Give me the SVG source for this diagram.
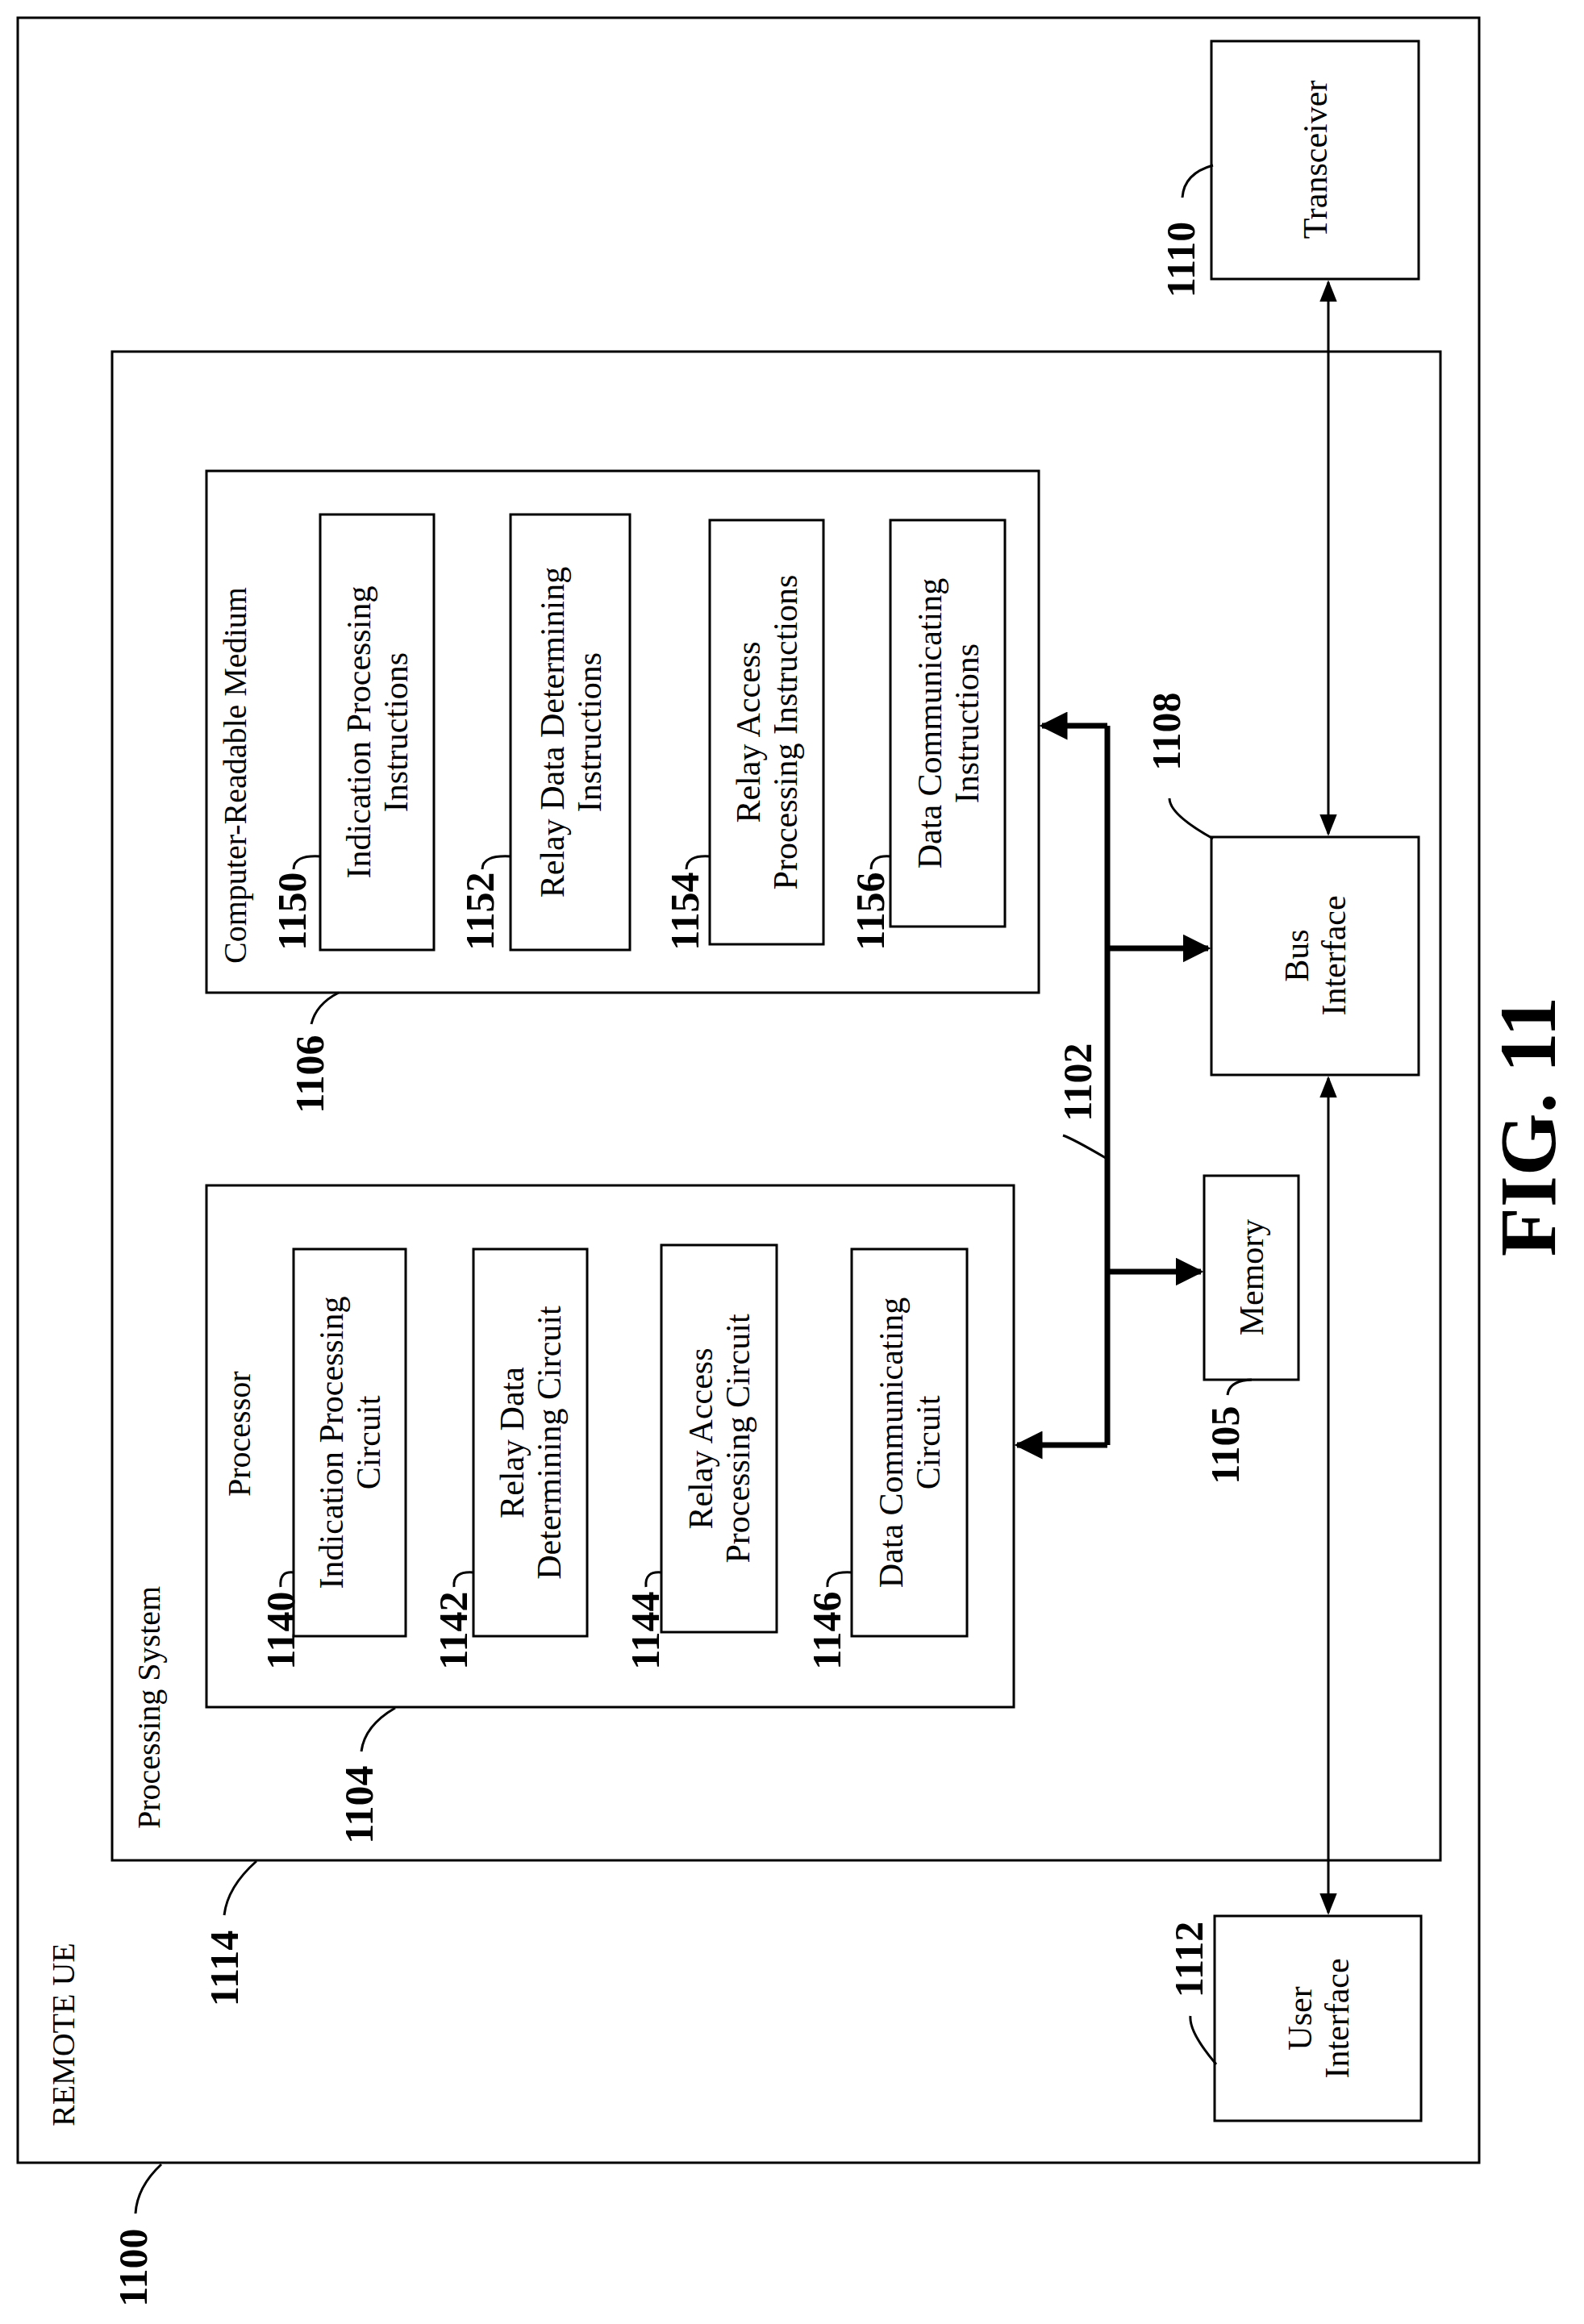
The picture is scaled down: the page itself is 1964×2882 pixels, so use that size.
<svg xmlns="http://www.w3.org/2000/svg" width="1964" height="2882" viewBox="0 0 1964 2882">
<style>
.b{fill:none;stroke:#000;stroke-width:3}
.t{font-family:"Liberation Serif",serif;font-size:42px;text-anchor:middle;fill:#000}
.l{font-family:"Liberation Serif",serif;font-size:40px;fill:#000}
.n{font-family:"Liberation Serif",serif;font-size:50px;font-weight:bold;text-anchor:middle;fill:#000}
.ld{fill:none;stroke:#000;stroke-width:3}
.bus{fill:none;stroke:#000;stroke-width:7}
.thin{fill:none;stroke:#000;stroke-width:3}
</style>
<defs>
<marker id="ab" viewBox="0 0 10 10" refX="9" refY="5" markerWidth="5" markerHeight="5" orient="auto-start-reverse" markerUnits="strokeWidth"><path d="M0,0L10,5L0,10z"/></marker>
<marker id="at" viewBox="0 0 10 10" refX="9" refY="5" markerWidth="9" markerHeight="9" orient="auto-start-reverse" markerUnits="strokeWidth"><path d="M0,1L10,5L0,9z"/></marker>
</defs>
<g id="n1100"><rect class="b" x="22" y="22" width="1812" height="2660"/>
<text class="l" transform="translate(92,2637) rotate(-90)">REMOTE UE</text>
<text class="n" transform="translate(182,2812) rotate(-90)">1100</text><path class="ld" d="M168,2745 Q170,2712 200,2684"/></g>
<g id="n1114"><rect class="b" x="139" y="436" width="1647" height="1871"/>
<text class="l" transform="translate(198,2268) rotate(-90)">Processing System</text>
<text class="n" transform="translate(295,2441) rotate(-90)">1114</text><path class="ld" d="M278,2375 Q282,2340 318,2308"/></g>
<g id="n1106"><rect class="b" x="256" y="584" width="1032" height="647"/>
<text class="l" transform="translate(305,1195) rotate(-90)">Computer-Readable Medium</text>
<text class="n" transform="translate(401,1332) rotate(-90)">1106</text><path class="ld" d="M386,1270 Q392,1245 420,1231"/></g>
<g id="n1150"><rect class="b" x="397" y="638" width="141" height="540"/>
<text class="t" transform="translate(467,908) rotate(-90)"><tspan x="0" y="-8">Indication Processing</tspan><tspan x="0" y="38">Instructions</tspan></text>
<text class="n" transform="translate(379,1130) rotate(-90)">1150</text><path class="ld" d="M364,1078 Q364,1060 397,1062"/></g>
<g id="n1152"><rect class="b" x="633" y="638" width="148" height="540"/>
<text class="t" transform="translate(707,908) rotate(-90)"><tspan x="0" y="-8">Relay Data Determining</tspan><tspan x="0" y="38">Instructions</tspan></text>
<text class="n" transform="translate(612,1130) rotate(-90)">1152</text><path class="ld" d="M598,1078 Q598,1060 633,1062"/></g>
<g id="n1154"><rect class="b" x="880" y="645" width="141" height="526"/>
<text class="t" transform="translate(950,908) rotate(-90)"><tspan x="0" y="-8">Relay Access</tspan><tspan x="0" y="38">Processing Instructions</tspan></text>
<text class="n" transform="translate(866,1130) rotate(-90)">1154</text><path class="ld" d="M851,1078 Q851,1060 880,1062"/></g>
<g id="n1156"><rect class="b" x="1104" y="645" width="142" height="504"/>
<text class="t" transform="translate(1175,897) rotate(-90)"><tspan x="0" y="-8">Data Communicating</tspan><tspan x="0" y="38">Instructions</tspan></text>
<text class="n" transform="translate(1096,1130) rotate(-90)">1156</text><path class="ld" d="M1080,1078 Q1080,1060 1104,1062"/></g>
<g id="n1104"><rect class="b" x="256" y="1470" width="1001" height="647"/>
<text class="l" transform="translate(310,1856) rotate(-90)">Processor</text>
<text class="n" transform="translate(462,2238) rotate(-90)">1104</text><path class="ld" d="M448,2172 Q452,2140 490,2118"/></g>
<g id="n1140"><rect class="b" x="364" y="1549" width="139" height="480"/>
<text class="t" transform="translate(433,1789) rotate(-90)"><tspan x="0" y="-8">Indication Processing</tspan><tspan x="0" y="38">Circuit</tspan></text>
<text class="n" transform="translate(365,2022) rotate(-90)">1140</text><path class="ld" d="M348,1968 Q346,1948 364,1950"/></g>
<g id="n1142"><rect class="b" x="587" y="1549" width="141" height="480"/>
<text class="t" transform="translate(657,1789) rotate(-90)"><tspan x="0" y="-8">Relay Data</tspan><tspan x="0" y="38">Determining Circuit</tspan></text>
<text class="n" transform="translate(579,2022) rotate(-90)">1142</text><path class="ld" d="M563,1968 Q561,1948 587,1950"/></g>
<g id="n1144"><rect class="b" x="820" y="1544" width="143" height="480"/>
<text class="t" transform="translate(891,1784) rotate(-90)"><tspan x="0" y="-8">Relay Access</tspan><tspan x="0" y="38">Processing Circuit</tspan></text>
<text class="n" transform="translate(817,2022) rotate(-90)">1144</text><path class="ld" d="M801,1968 Q799,1948 820,1950"/></g>
<g id="n1146"><rect class="b" x="1056" y="1549" width="143" height="480"/>
<text class="t" transform="translate(1127,1789) rotate(-90)"><tspan x="0" y="-8">Data Communicating</tspan><tspan x="0" y="38">Circuit</tspan></text>
<text class="n" transform="translate(1042,2022) rotate(-90)">1146</text><path class="ld" d="M1026,1968 Q1024,1948 1056,1950"/></g>
<g id="n1105"><rect class="b" x="1493" y="1458" width="117" height="253"/>
<text class="t" transform="translate(1566,1584) rotate(-90)">Memory</text>
<text class="n" transform="translate(1536,1792) rotate(-90)">1105</text><path class="ld" d="M1522,1730 Q1524,1712 1552,1711"/></g>
<g id="n1108"><rect class="b" x="1502" y="1038" width="257" height="295"/>
<text class="t" transform="translate(1630,1185) rotate(-90)"><tspan x="0" y="-8">Bus</tspan><tspan x="0" y="38">Interface</tspan></text>
<text class="n" transform="translate(1463,907) rotate(-90)">1108</text><path class="ld" d="M1450,990 Q1450,1010 1504,1040"/></g>
<g id="n1110"><rect class="b" x="1502" y="51" width="257" height="295"/>
<text class="t" transform="translate(1645,198) rotate(-90)">Transceiver</text>
<text class="n" transform="translate(1481,322) rotate(-90)">1110</text><path class="ld" d="M1466,245 Q1468,215 1504,205"/></g>
<g id="n1112"><rect class="b" x="1506" y="2376" width="256" height="254"/>
<text class="t" transform="translate(1634,2503) rotate(-90)"><tspan x="0" y="-8">User</tspan><tspan x="0" y="38">Interface</tspan></text>
<text class="n" transform="translate(1491,2430) rotate(-90)">1112</text><path class="ld" d="M1476,2500 Q1474,2520 1508,2560"/></g>
<g id="connectors">
<path class="bus" d="M1373,900 V1792"/>
<path class="bus" d="M1373,900 H1292" marker-end="url(#ab)"/>
<path class="bus" d="M1373,1176 H1498" marker-end="url(#ab)"/>
<path class="bus" d="M1373,1577 H1489" marker-end="url(#ab)"/>
<path class="bus" d="M1373,1792 H1261" marker-end="url(#ab)"/>
<path class="thin" d="M1647,350 V1034" marker-start="url(#at)" marker-end="url(#at)"/>
<path class="thin" d="M1647,1337 V2372" marker-start="url(#at)" marker-end="url(#at)"/>
<text class="n" transform="translate(1353,1342) rotate(-90)">1102</text><path class="ld" d="M1318,1408 Q1330,1412 1371,1436"/>
</g>
<text class="n" style="font-size:100px" transform="translate(1928,1397) rotate(-90)">FIG. 11</text>
</svg>
